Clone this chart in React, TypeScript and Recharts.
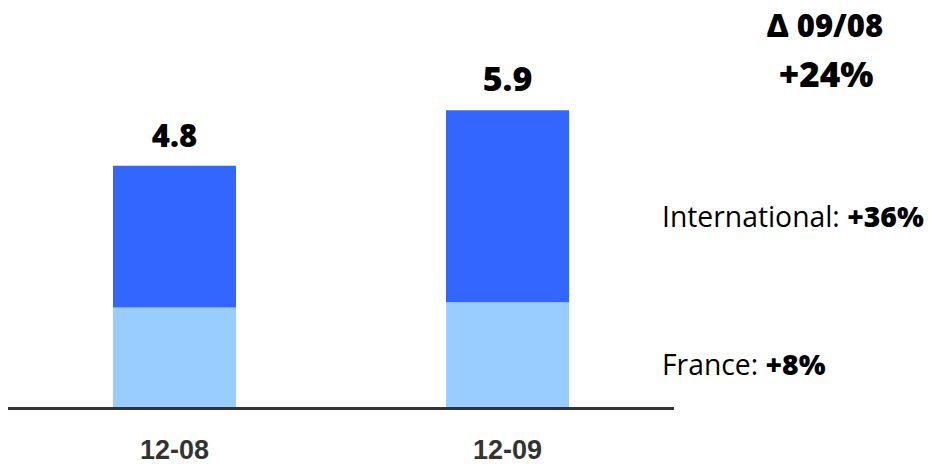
import React from "react";
import { BarChart, Bar, XAxis, YAxis, LabelList } from "recharts";

const categories = ["12-08", "12-09"];
const franceValues = [2.0, 2.1];
const internationalValues = [2.8, 3.8];
const totalLabels = ["4.8", "5.9"];
const deltaHeader = "Δ 09/08";
const deltaTotal = "+24%";
const internationalGrowth = "+36%";
const franceGrowth = "+8%";

const data = categories.map((c, i) => ({
  cat: c,
  france: franceValues[i],
  international: internationalValues[i],
  label: totalLabels[i],
}));

const LIGHT = "#99CCFF";
const DARK = "#3366FF";
const FONT = "'Open Sans', 'Noto Sans', sans-serif";
const labelSizes = [31, 34];

const TotalLabel = (props: any) => {
  const { x, y, width, index } = props;
  return (
    <text
      x={x + width / 2}
      y={y - 19}
      textAnchor="middle"
      fontFamily={FONT}
      fontWeight={800}
      fontSize={labelSizes[index] ?? 32}
      fill="#000"
    >
      {totalLabels[index]}
    </text>
  );
};

const Tick = (props: any) => {
  const { x, y, payload } = props;
  return (
    <text
      x={x}
      y={y + 50}
      textAnchor="middle"
      fontFamily="'Liberation Sans', Arial, sans-serif"
      fontWeight={700}
      fontSize={27}
      fill="#333"
    >
      {payload.value}
    </text>
  );
};

export default function App() {
  return (
    <div style={{ position: "absolute", left: 0, top: 0, width: 932, height: 464, background: "#fff" }}>
      <BarChart
        width={932}
        height={464}
        data={data}
        margin={{ top: 4, right: 258, bottom: 0, left: 8 }}
      >
        <XAxis
          dataKey="cat"
          height={55.5}
          tickLine={false}
          tickSize={0}
          tickMargin={0}
          axisLine={{ stroke: "#333", strokeWidth: 3 }}
          tick={<Tick />}
          interval={0}
        />
        <YAxis hide domain={[0, 8]} type="number" />
        <Bar dataKey="france" stackId="a" fill={LIGHT} barSize={123} isAnimationActive={false} />
        <Bar dataKey="international" stackId="a" fill={DARK} barSize={123} isAnimationActive={false}>
          <LabelList dataKey="label" content={<TotalLabel />} />
        </Bar>
      </BarChart>
      <svg
        width={932}
        height={464}
        style={{ position: "absolute", left: 0, top: 0, pointerEvents: "none" }}
      >
        <text x={825} y={37} textAnchor="middle" fontFamily={FONT} fontWeight={800} fontSize={31} fill="#000">
          {deltaHeader}
        </text>
        <text x={826} y={87} textAnchor="middle" fontFamily={FONT} fontWeight={800} fontSize={35} fill="#000">
          {deltaTotal}
        </text>
        <text x={662} y={227} fontFamily={FONT} fontSize={28.3} fill="#000">
          International: <tspan fontWeight={800}>{internationalGrowth}</tspan>
        </text>
        <text x={662} y={375} fontFamily={FONT} fontSize={28.3} fill="#000">
          France: <tspan fontWeight={800}>{franceGrowth}</tspan>
        </text>
      </svg>
    </div>
  );
}
